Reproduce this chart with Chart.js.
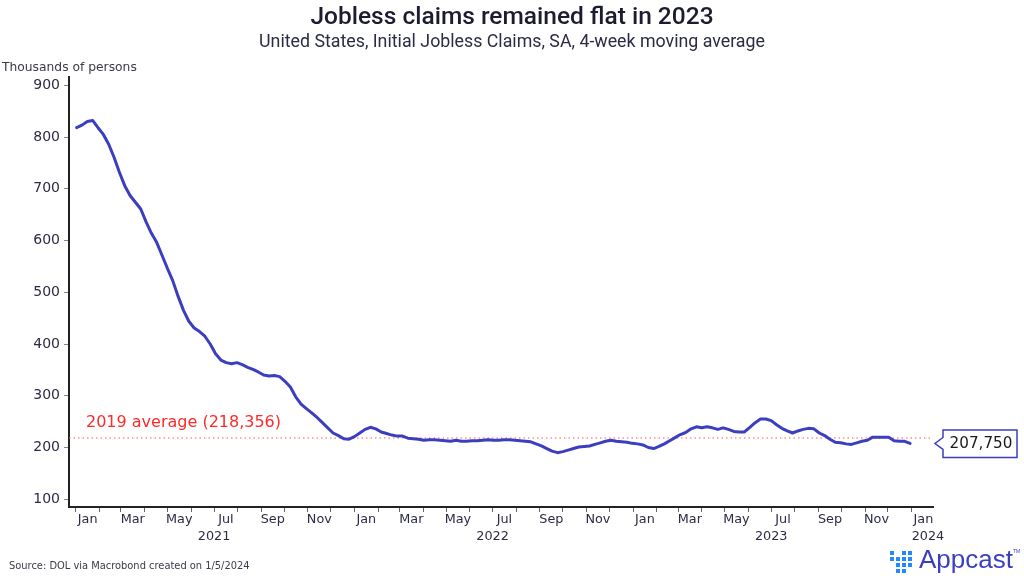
<!DOCTYPE html>
<html>
<head>
<meta charset="utf-8">
<script src="https://cdn.jsdelivr.net/npm/chart.js@4.4.1/dist/chart.umd.min.js"></script>
<style>
  html, body { margin: 0; padding: 0; background: #fff; }
  #wrap { position: relative; width: 1024px; height: 582px; }
</style>
</head>
<body>
<div id="wrap"><canvas id="claimsChart"></canvas></div>
<script>
// Initial jobless claims, SA, 4-week moving average (thousands), weekly, week ending Saturday
var firstWeekEnding = [2021, 0, 2];
var claims = [
    818, 823, 830, 832, 818, 805, 786, 761, 732, 706,
    687, 674, 661, 636, 614, 596, 571, 546, 522, 492,
    465, 444, 431, 424, 415, 400, 381, 369, 364, 362,
    364, 360, 355, 351, 346, 340, 338, 339, 337, 328,
    317, 298, 284, 275, 267, 258, 248, 238, 228, 223,
    217, 216, 221, 228, 235, 239, 236, 230, 227, 224,
    222, 222, 218, 217, 216, 214, 215, 215, 214, 213,
    212, 214, 212, 212, 213, 213, 214, 215, 214, 214,
    215, 215, 214, 213, 212, 211, 207, 203, 198, 193,
    190, 192, 195, 198, 201, 202, 203, 206, 209, 212,
    214, 212, 211, 210, 208, 207, 205, 200, 198, 202,
    207, 213, 219, 225, 229, 236, 240, 238, 240, 238,
    235, 238, 235, 231, 230, 230, 239, 248, 255, 255,
    252, 244, 237, 232, 228, 232, 235, 237, 236, 228,
    223, 216, 210, 209, 207, 206, 209, 212, 214, 220,
    220, 220, 220, 213, 212, 212, 207.75
];
var lastLabel = '207,750';
var avg2019 = 218.356;
var avgLabel = '2019 average (218,356)';
var yTicks = [100, 200, 300, 400, 500, 600, 700, 800, 900];
var monthLabels = ['Jan', 'Mar', 'May', 'Jul', 'Sep', 'Nov'];
var years = [2021, 2022, 2023];
var titleText = 'Jobless claims remained flat in 2023';
var subtitleText = 'United States, Initial Jobless Claims, SA, 4-week moving average';
var unitText = 'Thousands of persons';
var sourceText = 'Source: DOL via Macrobond created on 1/5/2024';

var DAY = 86400000;
var t0 = Date.UTC(2021, 0, 1);
function dayOf(y, m, d) { return (Date.UTC(y, m, d) - t0) / DAY; }

var points = claims.map(function(v, i) {
    return { x: dayOf(firstWeekEnding[0], firstWeekEnding[1], firstWeekEnding[2] + 7 * i), y: v };
});

// month boundaries Jan 2021 .. Jan 2024 for the tick marks
var monthStarts = [];
for (var m = 0; m <= 36; m++) monthStarts.push(dayOf(2021, m, 1));

var xMin = -9, xMax = 1123;

var decor = {
    id: 'decor',
    afterDraw: function(chart) {
        var ctx = chart.ctx, xs = chart.scales.x, ys = chart.scales.y;
        ctx.save();
        ctx.textBaseline = 'middle';

        // title / subtitle
        ctx.fillStyle = '#1c1c30';
        ctx.textAlign = 'center';
        ctx.font = '500 24.5px Roboto';
        ctx.fillText(titleText, 512, 18);
        ctx.fillStyle = '#2b2b45';
        ctx.font = '17.8px Roboto';
        ctx.fillText(subtitleText, 512, 43);

        // unit
        ctx.textAlign = 'left';
        ctx.fillStyle = '#3a3a4a';
        ctx.font = '12.3px "DejaVu Sans"';
        ctx.fillText(unitText, 2, 68);

        // month + year labels
        ctx.fillStyle = '#2b2b45';
        ctx.font = '12.8px "DejaVu Sans"';
        ctx.textAlign = 'center';
        years.forEach(function(yr) {
            monthLabels.forEach(function(name, i) {
                var mid = (dayOf(yr, i * 2, 1) + dayOf(yr, i * 2 + 1, 1)) / 2;
                ctx.fillText(name, xs.getPixelForValue(mid), 520);
            });
            ctx.fillText(String(yr), xs.getPixelForValue(dayOf(yr, 6, 1)), 537);
        });
        var midJan24 = (dayOf(2024, 0, 1) + dayOf(2024, 1, 1)) / 2;
        ctx.fillText('Jan', xs.getPixelForValue(midJan24), 520);
        ctx.textAlign = 'left';
        ctx.fillText('2024', xs.getPixelForValue(dayOf(2024, 0, 1)), 537);

        // 2019 average label
        ctx.fillStyle = '#ff2a2a';
        ctx.font = '16px "DejaVu Sans"';
        ctx.fillText(avgLabel, 86, 423);

        // last value callout
        var ty = ys.getPixelForValue(claims[claims.length - 1]);
        var tx = xs.right + 2;
        var bx = 943, bw = 74, bt = 430, bb = 457.5;
        ctx.beginPath();
        ctx.moveTo(bx, bt);
        ctx.lineTo(bx + bw, bt);
        ctx.lineTo(bx + bw, bb);
        ctx.lineTo(bx, bb);
        ctx.lineTo(bx, ty + 6);
        ctx.lineTo(tx, ty);
        ctx.lineTo(bx, ty - 6);
        ctx.closePath();
        ctx.fillStyle = '#fff';
        ctx.fill();
        ctx.strokeStyle = '#3b3fbf';
        ctx.lineWidth = 1.5;
        ctx.stroke();
        ctx.fillStyle = '#1a1a1a';
        ctx.font = '15.2px "DejaVu Sans"';
        ctx.textAlign = 'center';
        ctx.fillText(lastLabel, bx + bw / 2 + 1, (bt + bb) / 2);

        // source
        ctx.textAlign = 'left';
        ctx.fillStyle = '#3a3a4a';
        ctx.font = '9.9px "DejaVu Sans"';
        ctx.fillText(sourceText, 9, 566);

        // logo
        var cols = [[0, 1], [1, 2, 3], [0, 1, 2, 3], [0, 1, 2]];
        ctx.fillStyle = '#1f8bff';
        cols.forEach(function(rows, c) {
            rows.forEach(function(r) {
                ctx.fillRect(890 + c * 6, 551 + r * 6, 4, 4);
            });
        });
        ctx.fillStyle = '#3a3fc2';
        ctx.font = '26px "Liberation Sans"';
        ctx.textBaseline = 'alphabetic';
        ctx.fillText('Appcast', 919, 568);
        ctx.font = '5px "Liberation Sans"';
        ctx.fillText('TM', 1013, 553);

        ctx.restore();
    }
};

new Chart(document.getElementById('claimsChart'), {
    type: 'line',
    data: {
        datasets: [{
            data: points,
            borderColor: '#3b3fbf',
            borderWidth: 3,
            pointRadius: 0,
            tension: 0,
            borderJoinStyle: 'round',
            borderCapStyle: 'round'
        }, {
            data: [{ x: xMin, y: avg2019 }, { x: xMax, y: avg2019 }],
            borderColor: '#ff5a5a',
            borderWidth: 1,
            borderDash: [1.5, 3],
            pointRadius: 0
        }]
    },
    options: {
        responsive: true,
        maintainAspectRatio: false,
        animation: false,
        layout: { padding: { top: 77, right: 91, left: 0, bottom: 0 } },
        plugins: { legend: { display: false }, tooltip: { enabled: false } },
        scales: {
            x: {
                type: 'linear',
                min: xMin,
                max: xMax,
                afterBuildTicks: function(s) { s.ticks = monthStarts.map(function(v) { return { value: v }; }); },
                afterFit: function(s) { s.height = 75; },
                ticks: { autoSkip: false, maxRotation: 0, callback: function() { return ''; } },
                grid: { drawOnChartArea: false, drawTicks: true, tickLength: 5, color: '#666' },
                border: { color: '#222', width: 2 }
            },
            y: {
                min: 85,
                max: 916,
                afterBuildTicks: function(s) { s.ticks = yTicks.map(function(v) { return { value: v }; }); },
                afterFit: function(s) { s.width = 69; },
                ticks: {
                    padding: 4,
                    color: '#2b2b45',
                    font: { family: 'DejaVu Sans', size: 14 }
                },
                grid: { drawOnChartArea: false, drawTicks: true, tickLength: 5, color: '#888' },
                border: { color: '#222', width: 2 }
            }
        }
    },
    plugins: [decor]
});
</script>
</body>
</html>
